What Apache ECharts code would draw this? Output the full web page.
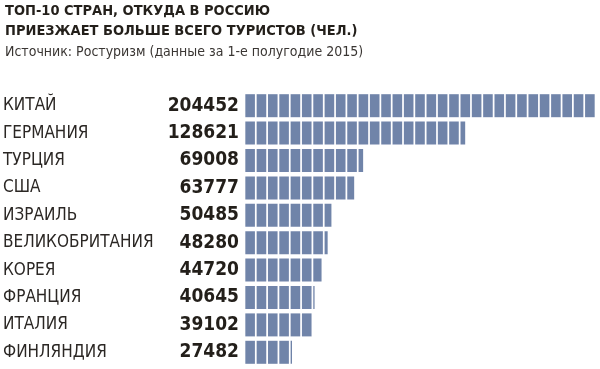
<!DOCTYPE html>
<html><head><meta charset="utf-8">
<script src="https://cdn.jsdelivr.net/npm/echarts@6/dist/echarts.min.js"></script>
<style>html,body{margin:0;padding:0;background:#fff}#c{width:600px;height:369px}</style>
</head><body><div id="c"></div>
<script>
var categories = ['КИТАЙ','ГЕРМАНИЯ','ТУРЦИЯ','США','ИЗРАИЛЬ','ВЕЛИКОБРИТАНИЯ','КОРЕЯ','ФРАНЦИЯ','ИТАЛИЯ','ФИНЛЯНДИЯ'];
var tourists = [204452,128621,69008,63777,50485,48280,44720,40645,39102,27482];
var titleText = 'ТОП-10 СТРАН, ОТКУДА В РОССИЮ\nПРИЕЗЖАЕТ БОЛЬШЕ ВСЕГО ТУРИСТОВ (ЧЕЛ.)';
var subtitleText = 'Источник: Ростуризм (данные за 1-е полугодие 2015)';

var condensed = "'DejaVu Sans Condensed', 'Liberation Sans Narrow', Roboto, sans-serif";
var maxVal = Math.max.apply(null, tourists);
var chart = echarts.init(document.getElementById('c'));
chart.setOption({
  animation: false,
  title: {
    text: titleText, subtext: subtitleText, left: 0, top: -4, itemGap: 4,
    textStyle: {fontFamily: condensed, fontWeight: 'bold', fontSize: 14.5, lineHeight: 20, color: '#231f1a'},
    subtextStyle: {fontFamily: condensed, fontSize: 14, color: '#3a3633'}
  },
  grid: {left: 245, right: 5, top: 92, bottom: 3},
  xAxis: {type: 'value', min: 0, max: maxVal, show: false},
  yAxis: [{
    type: 'category', data: categories, inverse: true,
    axisLine: {show: false}, axisTick: {show: false},
    axisLabel: {align: 'left', margin: 242, fontFamily: condensed, fontSize: 17, color: '#2b2724'}
  }, {
    type: 'category', data: categories, inverse: true, position: 'left', offset: 0,
    axisLine: {show: false}, axisTick: {show: false},
    axisLabel: {align: 'right', margin: 6, fontFamily: condensed, fontWeight: 'bold', fontSize: 19, color: '#231f1a',
      formatter: function (v, i) { return String(tourists[i]); }}
  }],
  series: [{
    type: 'pictorialBar', yAxisIndex: 0,
    data: tourists,
    symbol: 'rect', symbolRepeat: true, symbolClip: true, symbolBoundingData: maxVal,
    symbolSize: [9.6, 23], symbolMargin: 0.6, symbolOffset: [0, 0],
    itemStyle: {color: '#7084a9', borderColor: '#c3cde0', borderWidth: 1}
  }]
});
</script></body></html>
